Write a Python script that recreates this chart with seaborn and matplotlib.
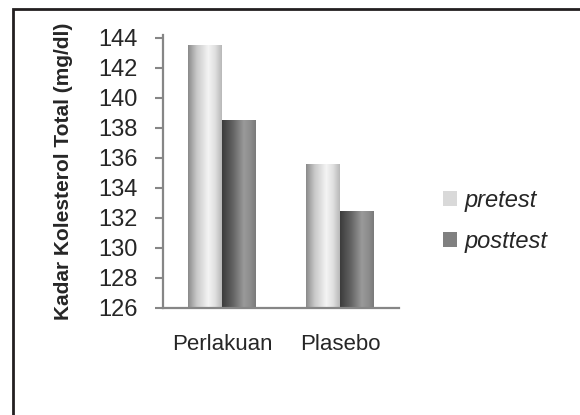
import matplotlib
matplotlib.use("Agg")
import matplotlib.pyplot as plt
import seaborn as sns
import numpy as np
import pandas as pd
from matplotlib.patches import Patch, Rectangle
from matplotlib.colors import LinearSegmentedColormap

# data
groups = ["Perlakuan", "Plasebo"]
series = ["pretest", "posttest"]
pretest = [143.5, 135.6]
posttest = [138.5, 132.4]
y_ticks = [126, 128, 130, 132, 134, 136, 138, 140, 142, 144]

df = pd.DataFrame({
    "kelompok": groups * 2,
    "tes": ["pretest"] * len(groups) + ["posttest"] * len(groups),
    "kadar": pretest + posttest,
})

sns.set_style("white")
plt.rcParams["font.family"] = ["Liberation Sans", "DejaVu Sans"]

fig = plt.figure(figsize=(5.8, 4.15), dpi=100)
ax = fig.add_axes([163 / 580, 1 - 308 / 415, 236 / 580, 273 / 415])

sns.barplot(data=df, x="kelompok", y="kadar", hue="tes", hue_order=series,
            palette=["#d9d9d9", "#808080"], width=0.57, gap=0,
            linewidth=0, legend=False, ax=ax)

ymin, ymax = 126, 144.2

# cylinder-like shading on the bars
shades = {
    "pretest": LinearSegmentedColormap.from_list(
        "pre", [(0, "#8a8a8a"), (0.25, "#c8c8c8"), (0.6, "#f4f4f4"), (0.8, "#e0e0e0"), (1, "#b8b8b8")]),
    "posttest": LinearSegmentedColormap.from_list(
        "post", [(0, "#3c3c3c"), (0.3, "#606060"), (0.65, "#9a9a9a"), (0.85, "#8c8c8c"), (1, "#7a7a7a")]),
}
grad = np.linspace(0, 1, 128).reshape(1, -1)
bars = [p for p in ax.patches if p.get_height() > 0]
for i, bar in enumerate(bars):
    name = series[i // len(groups)]
    x0, w = bar.get_x(), bar.get_width()
    top = bar.get_y() + bar.get_height()
    ax.imshow(grad, cmap=shades[name], aspect="auto",
              extent=(x0, x0 + w, ymin, top), zorder=bar.get_zorder() + 0.1)

ax.set_xlim(-0.5, 1.5)
ax.set_ylim(ymin, ymax)
ax.set_yticks(y_ticks)
ax.set_xlabel("")
ax.set_ylabel("Kadar Kolesterol Total (mg/dl)", fontsize=15, fontweight="bold")
ax.yaxis.set_label_coords((73 - 163) / 236, 0.5)
ax.tick_params(axis="y", labelsize=17, length=6, width=1.5, color="#868686", pad=12, left=True)
ax.tick_params(axis="x", labelsize=16, length=0, pad=19)

sns.despine(ax=ax)
for s in ["left", "bottom"]:
    ax.spines[s].set_color("#868686")
    ax.spines[s].set_linewidth(1.6)

handles = [Patch(facecolor="#d9d9d9", edgecolor="none", label="pretest"),
           Patch(facecolor="#808080", edgecolor="none", label="posttest")]
fig.legend(handles=handles, loc="center left", bbox_to_anchor=(422 / 580, 1 - 221 / 415),
           frameon=False, prop={"size": 17, "style": "italic"},
           handlelength=0.6, handleheight=0.6, handletextpad=0.3, labelspacing=0.75)

# outer chart frame
fig.add_artist(Rectangle((13 / 580, -0.1), 1.2, 1.1 - 9 / 415, transform=fig.transFigure,
                         fill=False, edgecolor="#231f20", linewidth=2))

fig.savefig("out.png", dpi=100)
